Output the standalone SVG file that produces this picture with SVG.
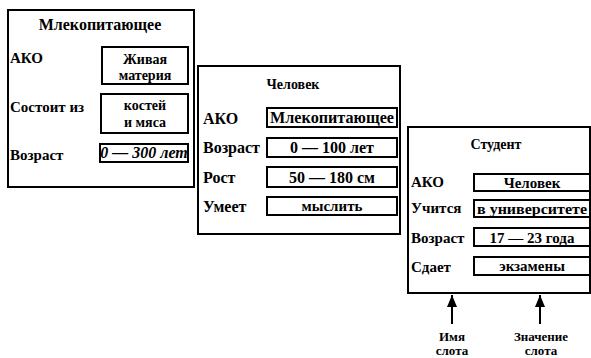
<svg xmlns="http://www.w3.org/2000/svg" width="591" height="358" viewBox="0 0 591 358">
<style>
.frame{fill:#fff;stroke:#000;stroke-width:2}
.box{fill:#fff;stroke:#000;stroke-width:2}
text{font-family:"Liberation Serif","Times New Roman",serif;font-weight:bold;font-size:15px;fill:#000}
.c{text-anchor:middle}
.i{font-style:italic}
.s{font-size:13px}
.n{font-size:16px}
.t{font-size:14px}
.conn{stroke:#000;stroke-width:2;fill:none}
</style>
<defs>
<marker id="ah" viewBox="0 0 12 10" refX="12" refY="5" markerWidth="12" markerHeight="10" markerUnits="userSpaceOnUse" orient="auto">
<path d="M0,0 L12,5 L0,10 Z" fill="#000"/>
</marker>
</defs>
<rect width="591" height="358" fill="#fff"/>
<g id="mammal">
<rect class="frame" x="8" y="10" width="186" height="177"/>
<text class="c n" x="100" y="30">Млекопитающее</text>
<text x="10" y="63">АКО</text>
<rect class="box" x="102" y="47" width="86" height="37"/>
<text class="c t" x="145" y="64">Живая</text>
<text class="c t" x="145" y="80">материя</text>
<text x="10" y="112">Состоит из</text>
<rect class="box" x="101" y="94" width="87" height="39"/>
<text class="c t" x="145" y="110">костей</text>
<text class="c t" x="145" y="127">и мяса</text>
<text x="10" y="160">Возраст</text>
<rect class="box" x="100" y="144" width="88" height="18"/>
<text class="c i n" x="144" y="158">0 — 300 лет</text>
</g>
<g id="human">
<rect class="frame" x="198" y="66" width="202" height="168"/>
<text class="c t" x="293" y="89">Человек</text>
<text class="n" x="203" y="124">АКО</text>
<rect class="box" x="267" y="108" width="130" height="19"/>
<text class="c n" x="332" y="123" textLength="124" lengthAdjust="spacingAndGlyphs">Млекопитающее</text>
<text class="n" x="203" y="153">Возраст</text>
<rect class="box" x="267" y="138" width="130" height="19"/>
<text class="c n" x="332" y="153">0 — 100 лет</text>
<text class="n" x="203" y="183">Рост</text>
<rect class="box" x="267" y="167" width="130" height="20"/>
<text class="c n" x="332" y="183">50 — 180 см</text>
<text class="n" x="203" y="212">Умеет</text>
<rect class="box" x="267" y="197" width="130" height="18"/>
<text class="c" x="332" y="211">мыслить</text>
</g>
<g id="student">
<rect class="frame" x="408" y="127" width="182" height="166"/>
<text class="c t" x="496" y="149">Студент</text>
<text x="411" y="187">АКО</text>
<rect class="box" x="474" y="174" width="116" height="17"/>
<text class="c" x="532" y="188">Человек</text>
<text x="411" y="213">Учится</text>
<rect class="box" x="474" y="200" width="116" height="17"/>
<text class="c" x="532" y="214" textLength="110" lengthAdjust="spacingAndGlyphs">в университете</text>
<text x="411" y="243">Возраст</text>
<rect class="box" x="474" y="228" width="116" height="18"/>
<text class="c" x="532" y="243">17 — 23 года</text>
<text x="411" y="272">Сдает</text>
<rect class="box" x="474" y="257" width="116" height="18"/>
<text class="c" x="532" y="271">экзамены</text>
</g>
<g id="connectors">
<line class="conn" x1="452" y1="324" x2="452" y2="295" marker-end="url(#ah)"/>
<line class="conn" x1="540" y1="324" x2="540" y2="295" marker-end="url(#ah)"/>
</g>
<g id="slot-name">
<text class="c s" x="452" y="341">Имя</text>
<text class="c s" x="452" y="355">слота</text>
</g>
<g id="slot-value">
<text class="c s" x="541" y="341">Значение</text>
<text class="c s" x="541" y="355">слота</text>
</g>
</svg>
